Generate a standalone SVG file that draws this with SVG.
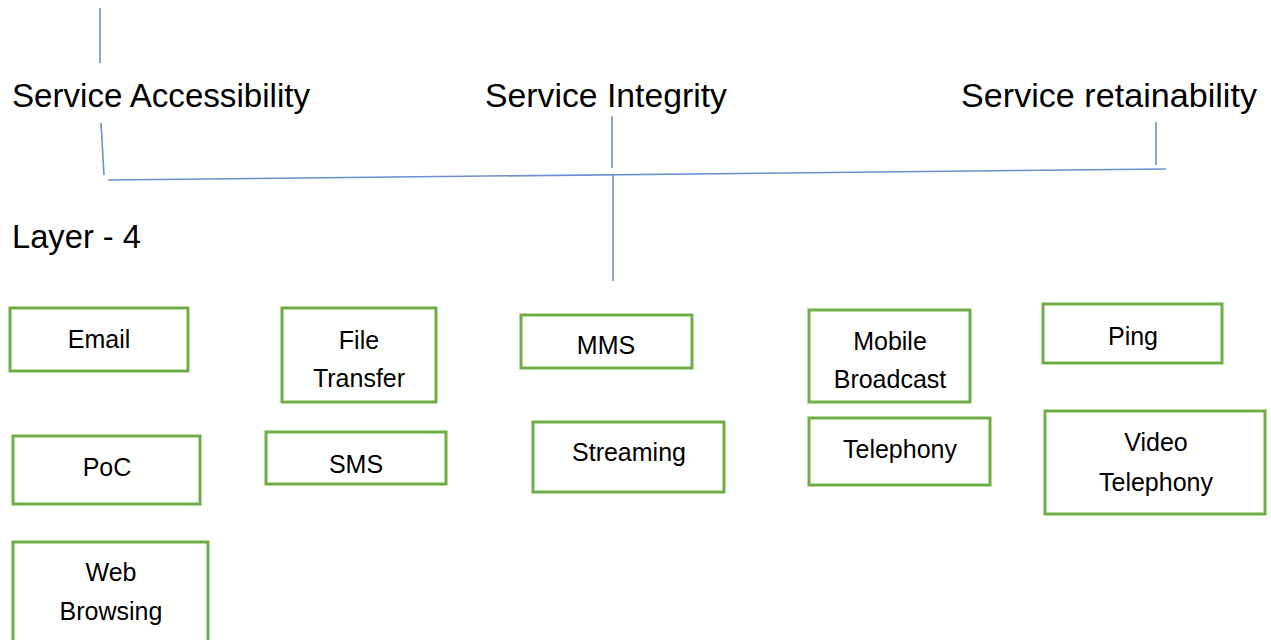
<svg xmlns="http://www.w3.org/2000/svg" width="1271" height="640" viewBox="0 0 1271 640">
<style>
.bg{fill:#ffffff}
.box{fill:#ffffff;stroke:#70AD47;stroke-width:3}
.lbl{font-family:"Liberation Sans",Arial,sans-serif;font-size:25px;fill:#000000;text-anchor:middle}
.head{font-family:"Liberation Sans",Arial,sans-serif;font-size:33px;fill:#000000}
.ln{stroke:#6C8FD0;stroke-width:1.6;fill:none}
</style>
<rect class="bg" x="0" y="0" width="1271" height="640"/>
<g id="headings">
<text class="head" x="12" y="107" textLength="298" lengthAdjust="spacingAndGlyphs">Service Accessibility</text>
<text class="head" x="485" y="107" textLength="242" lengthAdjust="spacingAndGlyphs">Service Integrity</text>
<text class="head" x="961" y="107" textLength="296" lengthAdjust="spacingAndGlyphs">Service retainability</text>
<text class="head" x="12" y="248" textLength="129" lengthAdjust="spacingAndGlyphs">Layer - 4</text>
</g>
<g id="connectors">
<line class="ln" x1="100" y1="8" x2="100" y2="63"/>
<line class="ln" x1="101" y1="123" x2="104" y2="175"/>
<line class="ln" x1="108" y1="180" x2="1166" y2="169"/>
<line class="ln" x1="612" y1="116" x2="612" y2="168"/>
<line class="ln" x1="1156" y1="122" x2="1156" y2="165"/>
<line class="ln" x1="613" y1="174" x2="613" y2="281"/>
</g>
<g id="email"><rect class="box" x="10" y="308" width="178" height="63"/><text class="lbl" x="99" y="348">Email</text></g>
<g id="file-transfer"><rect class="box" x="282" y="308" width="154" height="94"/><text class="lbl" x="359" y="349">File</text><text class="lbl" x="359" y="387">Transfer</text></g>
<g id="mms"><rect class="box" x="521" y="315" width="171" height="53"/><text class="lbl" x="606" y="354">MMS</text></g>
<g id="mobile-broadcast"><rect class="box" x="809" y="310" width="161" height="92"/><text class="lbl" x="890" y="350">Mobile</text><text class="lbl" x="890" y="388">Broadcast</text></g>
<g id="ping"><rect class="box" x="1043" y="304" width="179" height="59"/><text class="lbl" x="1133" y="345">Ping</text></g>
<g id="poc"><rect class="box" x="13" y="436" width="187" height="68"/><text class="lbl" x="107" y="476">PoC</text></g>
<g id="sms"><rect class="box" x="266" y="432" width="180" height="52"/><text class="lbl" x="356" y="473">SMS</text></g>
<g id="streaming"><rect class="box" x="533" y="422" width="191" height="70"/><text class="lbl" x="629" y="461">Streaming</text></g>
<g id="telephony"><rect class="box" x="809" y="418" width="181" height="67"/><text class="lbl" x="900" y="458">Telephony</text></g>
<g id="video-telephony"><rect class="box" x="1045" y="411" width="220" height="103"/><text class="lbl" x="1156" y="451">Video</text><text class="lbl" x="1156" y="491">Telephony</text></g>
<g id="web-browsing"><rect class="box" x="13" y="542" width="195" height="110"/><text class="lbl" x="111" y="581">Web</text><text class="lbl" x="111" y="620">Browsing</text></g>
</svg>
